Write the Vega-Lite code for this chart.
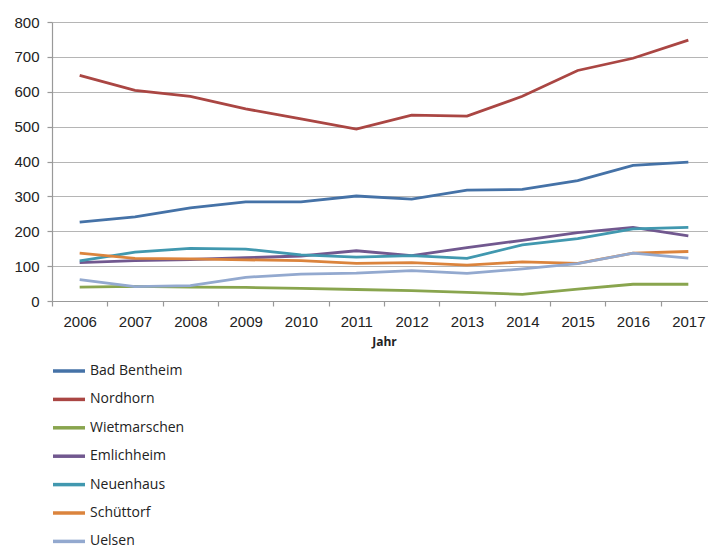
{
  "$schema": "https://vega.github.io/schema/vega-lite/v6.json",
  "autosize": "none",
  "width": 656,
  "height": 279,
  "padding": {"left": 52, "top": 22, "right": 0, "bottom": 248},
  "background": "white",
  "config": {"view": {"stroke": null}},
  "data": {"values": [
    {"Jahr": "2006", "Ort": "Bad Bentheim", "Wert": 226},
    {"Jahr": "2007", "Ort": "Bad Bentheim", "Wert": 241},
    {"Jahr": "2008", "Ort": "Bad Bentheim", "Wert": 267},
    {"Jahr": "2009", "Ort": "Bad Bentheim", "Wert": 284},
    {"Jahr": "2010", "Ort": "Bad Bentheim", "Wert": 284},
    {"Jahr": "2011", "Ort": "Bad Bentheim", "Wert": 301},
    {"Jahr": "2012", "Ort": "Bad Bentheim", "Wert": 292},
    {"Jahr": "2013", "Ort": "Bad Bentheim", "Wert": 318},
    {"Jahr": "2014", "Ort": "Bad Bentheim", "Wert": 320},
    {"Jahr": "2015", "Ort": "Bad Bentheim", "Wert": 345},
    {"Jahr": "2016", "Ort": "Bad Bentheim", "Wert": 389},
    {"Jahr": "2017", "Ort": "Bad Bentheim", "Wert": 398},
    {"Jahr": "2006", "Ort": "Nordhorn", "Wert": 647},
    {"Jahr": "2007", "Ort": "Nordhorn", "Wert": 604},
    {"Jahr": "2008", "Ort": "Nordhorn", "Wert": 587},
    {"Jahr": "2009", "Ort": "Nordhorn", "Wert": 551},
    {"Jahr": "2010", "Ort": "Nordhorn", "Wert": 522},
    {"Jahr": "2011", "Ort": "Nordhorn", "Wert": 493},
    {"Jahr": "2012", "Ort": "Nordhorn", "Wert": 533},
    {"Jahr": "2013", "Ort": "Nordhorn", "Wert": 530},
    {"Jahr": "2014", "Ort": "Nordhorn", "Wert": 587},
    {"Jahr": "2015", "Ort": "Nordhorn", "Wert": 661},
    {"Jahr": "2016", "Ort": "Nordhorn", "Wert": 696},
    {"Jahr": "2017", "Ort": "Nordhorn", "Wert": 748},
    {"Jahr": "2006", "Ort": "Wietmarschen", "Wert": 40},
    {"Jahr": "2007", "Ort": "Wietmarschen", "Wert": 42},
    {"Jahr": "2008", "Ort": "Wietmarschen", "Wert": 40},
    {"Jahr": "2009", "Ort": "Wietmarschen", "Wert": 39},
    {"Jahr": "2010", "Ort": "Wietmarschen", "Wert": 36},
    {"Jahr": "2011", "Ort": "Wietmarschen", "Wert": 33},
    {"Jahr": "2012", "Ort": "Wietmarschen", "Wert": 30},
    {"Jahr": "2013", "Ort": "Wietmarschen", "Wert": 25},
    {"Jahr": "2014", "Ort": "Wietmarschen", "Wert": 19},
    {"Jahr": "2015", "Ort": "Wietmarschen", "Wert": 34},
    {"Jahr": "2016", "Ort": "Wietmarschen", "Wert": 48},
    {"Jahr": "2017", "Ort": "Wietmarschen", "Wert": 48},
    {"Jahr": "2006", "Ort": "Emlichheim", "Wert": 110},
    {"Jahr": "2007", "Ort": "Emlichheim", "Wert": 116},
    {"Jahr": "2008", "Ort": "Emlichheim", "Wert": 119},
    {"Jahr": "2009", "Ort": "Emlichheim", "Wert": 124},
    {"Jahr": "2010", "Ort": "Emlichheim", "Wert": 129},
    {"Jahr": "2011", "Ort": "Emlichheim", "Wert": 144},
    {"Jahr": "2012", "Ort": "Emlichheim", "Wert": 130},
    {"Jahr": "2013", "Ort": "Emlichheim", "Wert": 153},
    {"Jahr": "2014", "Ort": "Emlichheim", "Wert": 174},
    {"Jahr": "2015", "Ort": "Emlichheim", "Wert": 196},
    {"Jahr": "2016", "Ort": "Emlichheim", "Wert": 211},
    {"Jahr": "2017", "Ort": "Emlichheim", "Wert": 187},
    {"Jahr": "2006", "Ort": "Neuenhaus", "Wert": 115},
    {"Jahr": "2007", "Ort": "Neuenhaus", "Wert": 140},
    {"Jahr": "2008", "Ort": "Neuenhaus", "Wert": 151},
    {"Jahr": "2009", "Ort": "Neuenhaus", "Wert": 149},
    {"Jahr": "2010", "Ort": "Neuenhaus", "Wert": 132},
    {"Jahr": "2011", "Ort": "Neuenhaus", "Wert": 126},
    {"Jahr": "2012", "Ort": "Neuenhaus", "Wert": 130},
    {"Jahr": "2013", "Ort": "Neuenhaus", "Wert": 122},
    {"Jahr": "2014", "Ort": "Neuenhaus", "Wert": 161},
    {"Jahr": "2015", "Ort": "Neuenhaus", "Wert": 179},
    {"Jahr": "2016", "Ort": "Neuenhaus", "Wert": 207},
    {"Jahr": "2017", "Ort": "Neuenhaus", "Wert": 211},
    {"Jahr": "2006", "Ort": "Schüttorf", "Wert": 137},
    {"Jahr": "2007", "Ort": "Schüttorf", "Wert": 122},
    {"Jahr": "2008", "Ort": "Schüttorf", "Wert": 121},
    {"Jahr": "2009", "Ort": "Schüttorf", "Wert": 118},
    {"Jahr": "2010", "Ort": "Schüttorf", "Wert": 116},
    {"Jahr": "2011", "Ort": "Schüttorf", "Wert": 108},
    {"Jahr": "2012", "Ort": "Schüttorf", "Wert": 110},
    {"Jahr": "2013", "Ort": "Schüttorf", "Wert": 103},
    {"Jahr": "2014", "Ort": "Schüttorf", "Wert": 112},
    {"Jahr": "2015", "Ort": "Schüttorf", "Wert": 108},
    {"Jahr": "2016", "Ort": "Schüttorf", "Wert": 137},
    {"Jahr": "2017", "Ort": "Schüttorf", "Wert": 142},
    {"Jahr": "2006", "Ort": "Uelsen", "Wert": 61},
    {"Jahr": "2007", "Ort": "Uelsen", "Wert": 41},
    {"Jahr": "2008", "Ort": "Uelsen", "Wert": 44},
    {"Jahr": "2009", "Ort": "Uelsen", "Wert": 68},
    {"Jahr": "2010", "Ort": "Uelsen", "Wert": 77},
    {"Jahr": "2011", "Ort": "Uelsen", "Wert": 80},
    {"Jahr": "2012", "Ort": "Uelsen", "Wert": 87},
    {"Jahr": "2013", "Ort": "Uelsen", "Wert": 79},
    {"Jahr": "2014", "Ort": "Uelsen", "Wert": 92},
    {"Jahr": "2015", "Ort": "Uelsen", "Wert": 107},
    {"Jahr": "2016", "Ort": "Uelsen", "Wert": 137},
    {"Jahr": "2017", "Ort": "Uelsen", "Wert": 123}
  ]},
  "mark": {"type": "line", "strokeWidth": 2.8},
  "encoding": {
    "x": {
      "field": "Jahr", "type": "ordinal",
      "scale": {"type": "band", "range": [0, 664], "paddingInner": 0, "paddingOuter": 0},
      "axis": {
        "title": "Jahr", "titleFont": "Open Sans", "titleFontSize": 12, "titleFontWeight": "bold",
        "titleColor": "#222", "titlePadding": 7, "titleX": 332,
        "labelFont": "Liberation Sans", "labelFontSize": 15, "labelColor": "#222", "labelAngle": 0,
        "labelPadding": 8, "domainColor": "#999", "domainWidth": 1.2,
        "tickColor": "#999", "tickSize": 5, "tickBand": "extent", "tickWidth": 1.2, "grid": false
      }
    },
    "y": {
      "field": "Wert", "type": "quantitative",
      "scale": {"domain": [0, 800], "nice": false},
      "axis": {
        "title": null, "values": [0, 100, 200, 300, 400, 500, 600, 700, 800],
        "labelFont": "Liberation Sans", "labelFontSize": 15, "labelColor": "#222",
        "labelPadding": 8, "domainColor": "#999", "domainWidth": 1.2,
        "tickColor": "#999", "tickSize": 5, "tickWidth": 1.2,
        "grid": true, "gridColor": "#b5b5b5", "gridWidth": 1.2
      }
    },
    "color": {
      "field": "Ort", "type": "nominal",
      "sort": ["Bad Bentheim", "Nordhorn", "Wietmarschen", "Emlichheim", "Neuenhaus", "Schüttorf", "Uelsen"],
      "scale": {
        "domain": ["Bad Bentheim", "Nordhorn", "Wietmarschen", "Emlichheim", "Neuenhaus", "Schüttorf", "Uelsen"],
        "range": ["#4572A7", "#AA4643", "#89A54E", "#71588F", "#4198AF", "#DB843D", "#93A9CF"]
      },
      "legend": {
        "title": null, "orient": "none", "legendX": -1, "legendY": 331, "direction": "vertical",
        "symbolType": "stroke", "symbolSize": 1024, "symbolStrokeWidth": 3.5,
        "labelFont": "Open Sans", "labelFontSize": 14, "labelColor": "#222",
        "labelOffset": 3, "rowPadding": 3.4, "padding": 0
      }
    }
  }
}
